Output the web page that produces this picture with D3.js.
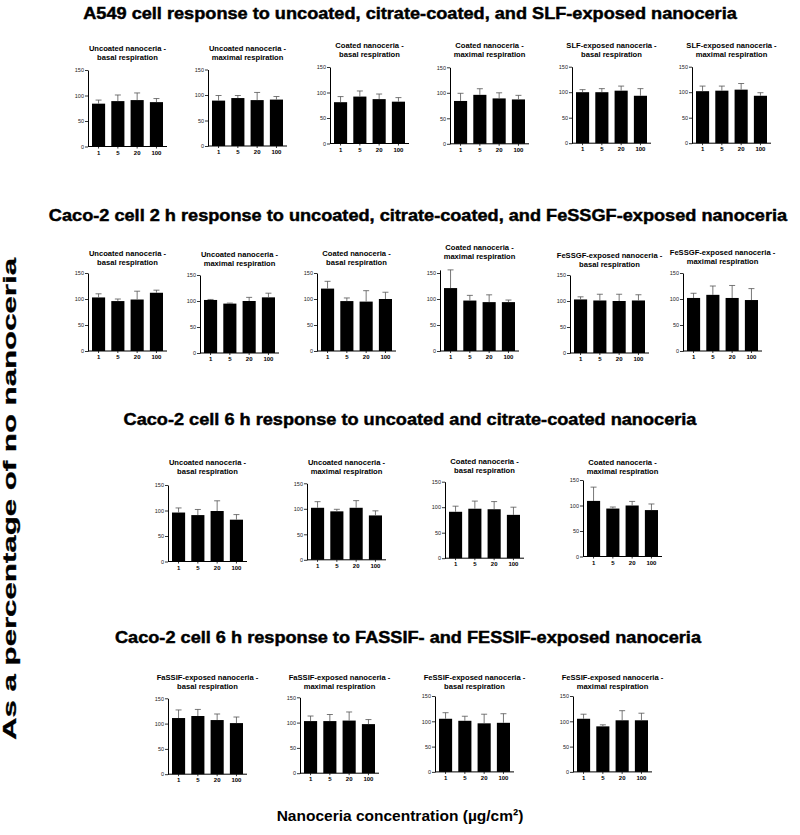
<!DOCTYPE html>
<html>
<head>
<meta charset="utf-8">
<script src="https://cdn.jsdelivr.net/npm/d3@7"></script>
<style>
  body { margin: 0; background: #fff; }
  svg { display: block; }
  text { font-family: "Liberation Sans", Arial, sans-serif; }
</style>
</head>
<body>
<svg id="chart" width="800" height="835"></svg>
<script>
// concentrations on every x axis (µg/cm2)
const doses = ['1', '5', '20', '100'];
const yTicks = [0, 50, 100, 150];

const rowTitles = [
    'A549 cell response to uncoated, citrate-coated, and SLF-exposed nanoceria',
    'Caco-2 cell 2 h response to uncoated, citrate-coated, and FeSSGF-exposed nanoceria',
    'Caco-2 cell 6 h response to uncoated and citrate-coated nanoceria',
    'Caco-2 cell 6 h response to FASSIF- and FESSIF-exposed nanoceria'
];

// row 1 - A549
const r1Titles = [
    ['Uncoated nanoceria -', 'basal respiration'],
    ['Uncoated nanoceria -', 'maximal respiration'],
    ['Coated nanoceria -', 'basal respiration'],
    ['Coated nanoceria -', 'maximal respiration'],
    ['SLF-exposed nanoceria -', 'basal respiration'],
    ['SLF-exposed nanoceria -', 'maximal respiration']
];
const r1Means = [[84, 89, 91, 87], [89, 94, 90, 91], [81, 92, 87, 82], [84, 96, 89, 87], [100, 100, 103, 93], [102, 103, 105, 93]];
const r1Errors = [[7, 12, 14, 7], [10, 5, 15, 6], [11, 11, 10, 8], [15, 12, 11, 8], [5, 7, 9, 14], [10, 9, 12, 6]];

// row 2 - Caco-2 2 h
const r2Titles = [
    ['Uncoated nanoceria -', 'basal respiration'],
    ['Uncoated nanoceria -', 'maximal respiration'],
    ['Coated nanoceria -', 'basal respiration'],
    ['Coated nanoceria -', 'maximal respiration'],
    ['FeSSGF-exposed nanoceria -', 'basal respiration'],
    ['FeSSGF-exposed nanoceria -', 'maximal respiration']
];
const r2Means = [[103, 96, 99, 112], [102, 95, 100, 107], [120, 96, 95, 100], [121, 97, 94, 94], [103, 101, 100, 101], [102, 108, 102, 98]];
const r2Errors = [[7, 4, 16, 5], [1, 1, 7, 8], [14, 6, 21, 13], [35, 10, 14, 4], [5, 12, 13, 11], [9, 17, 24, 22]];

// row 3 - Caco-2 6 h
const r3Titles = [
    ['Uncoated nanoceria -', 'basal respiration'],
    ['Uncoated nanoceria -', 'maximal respiration'],
    ['Coated nanoceria -', 'basal respiration'],
    ['Coated nanoceria -', 'maximal respiration']
];
const r3Means = [[96, 91, 99, 82], [102, 95, 102, 87], [91, 97, 96, 85], [109, 94, 100, 91]];
const r3Errors = [[9, 11, 20, 10], [12, 4, 14, 9], [11, 15, 15, 15], [27, 3, 8, 12]];

// row 4 - Caco-2 6 h, FaSSIF / FeSSIF
const r4Titles = [
    ['FaSSIF-exposed nanoceria -', 'basal respiration'],
    ['FaSSIF-exposed nanoceria -', 'maximal respiration'],
    ['FeSSIF-exposed nanoceria -', 'basal respiration'],
    ['FeSSIF-exposed nanoceria -', 'maximal respiration']
];
const r4Means = [[111, 115, 107, 101], [103, 103, 104, 97], [105, 101, 96, 97], [105, 90, 102, 102]];
const r4Errors = [[16, 13, 12, 12], [10, 13, 17, 9], [12, 9, 18, 18], [9, 3, 19, 14]];

// layout of each row: title centre + baseline, px per 50 units, and per panel [axis x, y of 150, subtitle y]
const rows = [
    { title: rowTitles[0], tx: 410, ty: 19, step: 25.5, titles: r1Titles, means: r1Means, errs: r1Errors,
      panels: [[88, 70, 48], [208, 69.5, 48], [330, 67, 45], [450, 67.3, 45], [572, 66.7, 45], [692, 66.7, 45]] },
    { title: rowTitles[1], tx: 418, ty: 221, step: 26, titles: r2Titles, means: r2Means, errs: r2Errors,
      panels: [[88, 273, 253], [200, 275, 254], [317, 273, 253], [440, 273, 247], [570, 275, 255], [683, 273, 252]] },
    { title: rowTitles[2], tx: 410, ty: 425, step: 25.5, titles: r3Titles, means: r3Means, errs: r3Errors,
      panels: [[168, 485, 462], [307, 483.3, 462], [445, 481.7, 461], [583, 480, 462]] },
    { title: rowTitles[3], tx: 408, ty: 643, step: 25.3, titles: r4Titles, means: r4Means, errs: r4Errors,
      panels: [[168, 698.3, 677], [300, 697.3, 677], [435, 696, 677], [573, 696, 677]] }
];

const svg = d3.select('#chart');
const axisLen = 79;

rows.forEach(row => {
    // heavy, wide title (the original uses a black-weight face)
    const t = svg.append('text')
        .attr('x', row.tx)
        .attr('y', row.ty)
        .attr('text-anchor', 'middle')
        .attr('font-size', 16.5)
        .attr('font-weight', 'bold')
        .attr('fill', '#000')
        .attr('stroke', '#000')
        .attr('stroke-width', 0.45)
        .text(row.title);
    const w = t.node().getComputedTextLength();
    t.attr('textLength', w * 1.1).attr('lengthAdjust', 'spacingAndGlyphs');

    row.panels.forEach((p, i) => {
        drawPanel(p, row.step, row.titles[i], row.means[i], row.errs[i]);
    });
});

function drawPanel(p, step, title, means, errs) {
    const ax = p[0], y150 = p[1], subY = p[2];
    const y0 = y150 + 3 * step;
    const yMax = Math.max(150, d3.max(means, (m, i) => m + errs[i]));

    const g = svg.append('g');

    var y = d3.scaleLinear()
        .domain([0, yMax])
        .range([y0, y0 - yMax * step / 50]);

    var x = d3.scaleBand()
        .domain(doses)
        .range([ax + 4, ax + 75])
        .paddingInner(0.32);

    // subtitle, two lines
    g.append('text')
        .attr('x', ax + axisLen / 2)
        .attr('y', subY + 2.7)
        .attr('text-anchor', 'middle')
        .attr('font-size', 7.6)
        .attr('font-weight', 'bold')
        .selectAll('tspan')
        .data(title)
        .enter().append('tspan')
        .attr('x', ax + axisLen / 2)
        .attr('dy', (d, i) => i === 0 ? 0 : 8.8)
        .text(d => d);

    // bars
    g.selectAll('.bar')
        .data(means)
        .enter().append('rect')
        .attr('class', 'bar')
        .attr('x', (d, i) => x(doses[i]))
        .attr('y', d => y(d))
        .attr('width', x.bandwidth())
        .attr('height', d => y0 - y(d))
        .attr('fill', '#000');

    // error bars (upper only)
    const eb = g.selectAll('.err')
        .data(means)
        .enter().append('g')
        .attr('class', 'err')
        .attr('stroke', '#555')
        .attr('stroke-width', 0.8);
    eb.append('line')
        .attr('x1', (d, i) => x(doses[i]) + x.bandwidth() / 2)
        .attr('x2', (d, i) => x(doses[i]) + x.bandwidth() / 2)
        .attr('y1', d => y(d))
        .attr('y2', (d, i) => y(d + errs[i]));
    eb.append('line')
        .attr('x1', (d, i) => x(doses[i]) + x.bandwidth() / 2 - 3)
        .attr('x2', (d, i) => x(doses[i]) + x.bandwidth() / 2 + 3)
        .attr('y1', (d, i) => y(d + errs[i]))
        .attr('y2', (d, i) => y(d + errs[i]));

    // Y axis
    const ya = g.append('g')
        .attr('transform', 'translate(' + ax + ',0)')
        .call(d3.axisLeft(y).tickValues(yTicks).tickSize(3).tickSizeOuter(0));
    ya.select('.domain').attr('stroke', '#000').attr('stroke-width', 1);
    ya.selectAll('.tick line').attr('stroke', '#000').attr('stroke-width', 0.8);
    ya.selectAll('text')
        .attr('font-size', 5.5)
        .attr('fill', '#222')
        .attr('x', -4);

    // X axis
    const xa = g.append('g')
        .attr('transform', 'translate(0,' + y0 + ')')
        .call(d3.axisBottom(x).tickSize(2).tickSizeOuter(0));
    xa.select('.domain').remove();
    xa.append('line')
        .attr('x1', ax)
        .attr('x2', ax + axisLen)
        .attr('stroke', '#000')
        .attr('stroke-width', 1);
    xa.selectAll('.tick line').attr('stroke', '#000').attr('stroke-width', 0.8);
    xa.selectAll('text')
        .attr('font-size', 6)
        .attr('font-weight', 'bold')
        .attr('fill', '#000')
        .attr('y', 4);
}

// shared axis titles (the y title is stretched along its length in the original)
svg.append('text')
    .attr('transform', 'translate(15.5,499) rotate(-90)')
    .attr('text-anchor', 'middle')
    .attr('font-size', 18)
    .attr('font-weight', 'bold')
    .attr('stroke', '#000')
    .attr('stroke-width', 0.3)
    .attr('textLength', 482)
    .attr('lengthAdjust', 'spacingAndGlyphs')
    .text('As a percentage of no nanoceria');

svg.append('text')
    .attr('x', 400)
    .attr('y', 821)
    .attr('text-anchor', 'middle')
    .attr('font-size', 15.5)
    .attr('font-weight', 'bold')
    .text('Nanoceria concentration (µg/cm²)');
</script>
</body>
</html>
